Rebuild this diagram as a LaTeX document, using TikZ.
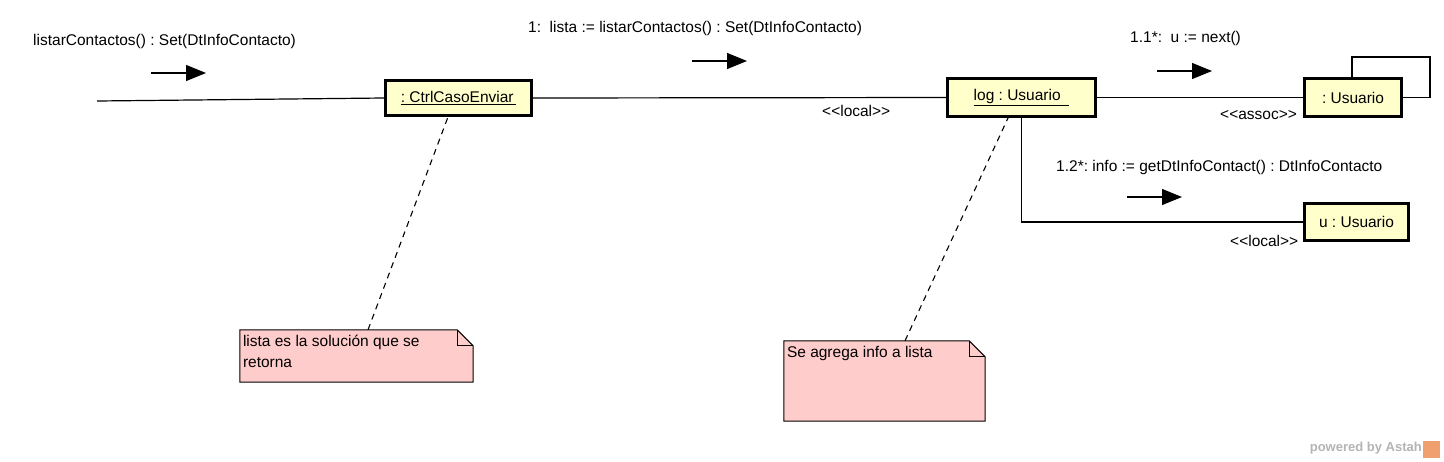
\documentclass[tikz,border=0pt]{standalone}
\usepackage{fontspec}
\setmainfont{Liberation Sans}
\usetikzlibrary{arrows.meta,calc}
\frenchspacing
\definecolor{objfill}{RGB}{255,255,204}
\definecolor{notefill}{RGB}{255,204,204}
\definecolor{wmgray}{RGB}{180,180,180}
\definecolor{wmorange}{RGB}{240,160,110}
\tikzset{
  obj/.style={draw=black, line width=3pt, fill=objfill, inner sep=0pt, font=\fontsize{15.5}{18}\selectfont},
  lbl/.style={inner sep=0pt, anchor=west, font=\fontsize{15.5}{18}\selectfont},
  link/.style={draw=black, line width=1.2pt},
  msg/.style={draw=black, line width=1.2pt, -{Triangle[length=20pt,width=16pt]}},
  notebox/.style={inner sep=0pt},
  notepath/.style={draw=black, line width=1pt, fill=notefill},
  notetext/.style={inner sep=0pt, anchor=north west, align=left, font=\fontsize{15.5}{21}\selectfont},
  anchorline/.style={draw=black, line width=1.1pt, dash pattern=on 6pt off 5pt},
}
\begin{document}
\begin{tikzpicture}[x=1pt,y=-1pt]
\useasboundingbox (0,0) rectangle (1444,461);
\fill[white] (0,0) rectangle (1444,461);

% objects
\node[obj, minimum width=146pt, minimum height=35pt] (ctrl) at (458.5,98) {\raisebox{2pt}{\underline{: CtrlCasoEnviar\,}}};
\node[obj, minimum width=148pt, minimum height=38pt] (log) at (1021.5,97.5) {\raisebox{3pt}{\underline{log : Usuario\ \ }}};
\node[obj, minimum width=97pt, minimum height=38pt] (usr) at (1353,97.5) {: Usuario};
\node[obj, minimum width=104pt, minimum height=37pt] (uu) at (1356.5,222) {u : Usuario};

% connectors
\coordinate (start) at (97,101);
\coordinate (loopc) at (1430,57);
\draw[link] (start) -- (ctrl.west);
\draw[link] (ctrl.east) -- (log.west);
\draw[link] (log.east) -- (usr.west);
\draw[link] (log.south) |- (uu.west);
\draw[link] ([xshift=-1pt]usr.north) |- (loopc) |- (usr.east);

% messages
\node[lbl] (m0) at (33,41) {listarContactos() : Set(DtInfoContacto)};
\coordinate (a0s) at (151,73); \coordinate (a0e) at (206,73);
\draw[msg] (a0s) -- (a0e);

\node[lbl] (m1) at (528,28) {1:\ \ lista := listarContactos() : Set(DtInfoContacto)};
\coordinate (a1s) at (692,61); \coordinate (a1e) at (747,61);
\draw[msg] (a1s) -- (a1e);
\node[lbl] (s1) at (822,111) {<{}<local>{}>};

\node[lbl] (m2) at (1130,38) {1.1*:\ \ u := next()};
\coordinate (a2s) at (1157,71); \coordinate (a2e) at (1212,71);
\draw[msg] (a2s) -- (a2e);
\node[lbl] (s2) at (1220,115) {<{}<assoc>{}>};

\node[lbl] (m3) at (1056,167) {1.2*: info := getDtInfoContact() : DtInfoContacto};
\coordinate (a3s) at (1127,197); \coordinate (a3e) at (1182,197);
\draw[msg] (a3s) -- (a3e);
\node[lbl] (s3) at (1230,241) {<{}<local>{}>};

% notes
\node[notebox, minimum width=233pt, minimum height=52pt] (n1) at (356.5,356) {};
\path[notepath] (n1.north west) -- ([xshift=-16pt]n1.north east) -- ([yshift=-16pt]n1.north east) -- (n1.south east) -- (n1.south west) -- cycle;
\draw[line width=1pt] ([xshift=-16pt]n1.north east) -- ([xshift=-16pt,yshift=-16pt]n1.north east) -- ([yshift=-16pt]n1.north east);
\node[notetext] (n1t) at ([xshift=3pt,yshift=-5pt]n1.north west) {lista es la solución que se\\retorna};
\draw[anchorline] ([xshift=11.5pt]n1.north) -- ([xshift=-10.5pt]ctrl.south);

\node[notebox, minimum width=201pt, minimum height=80pt] (n2) at (884.5,381) {};
\path[notepath] (n2.north west) -- ([xshift=-16pt]n2.north east) -- ([yshift=-16pt]n2.north east) -- (n2.south east) -- (n2.south west) -- cycle;
\draw[line width=1pt] ([xshift=-16pt]n2.north east) -- ([xshift=-16pt,yshift=-16pt]n2.north east) -- ([yshift=-16pt]n2.north east);
\node[notetext] (n2t) at ([xshift=3pt,yshift=-5pt]n2.north west) {Se agrega info a lista};
\draw[anchorline] ([xshift=20.5pt]n2.north) -- ([xshift=-13.5pt]log.south);

% watermark
\node[inner sep=0pt, anchor=east, text=wmgray, font=\fontsize{13}{15}\bfseries\selectfont] (wm) at (1422,448) {powered by Astah};
\node[inner sep=0pt, fill=wmorange, minimum width=17pt, minimum height=17pt, anchor=west] (wmicon) at (1423,449) {};
\end{tikzpicture}
\end{document}
